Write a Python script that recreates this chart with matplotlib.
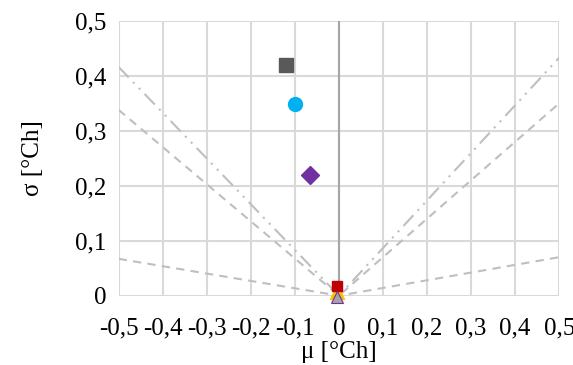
import matplotlib
matplotlib.use("Agg")
import matplotlib.pyplot as plt

plt.rcParams['font.family'] = ['Liberation Serif', 'DejaVu Serif']

# Data
x_ticks = [-0.5, -0.4, -0.3, -0.2, -0.1, 0.0, 0.1, 0.2, 0.3, 0.4, 0.5]
x_tick_labels = ["-0,5", "-0,4", "-0,3", "-0,2", "-0,1", "0", "0,1", "0,2", "0,3", "0,4", "0,5"]
y_ticks = [0.0, 0.1, 0.2, 0.3, 0.4, 0.5]
y_tick_labels = ["0", "0,1", "0,2", "0,3", "0,4", "0,5"]

# Limit lines (mu, sigma)
line_mu = [-0.5, 0.0, 0.5]
line_dashdot_sigma = [0.416, 0.0, 0.433]
line_dashed_sigma = [0.338, 0.0, 0.350]
line_low_sigma = [0.067, 0.0, 0.070]

# Points (mu, sigma)
pt_gray_sq = (-0.12, 0.42)
pt_blue = (-0.10, 0.348)
pt_purple = (-0.065, 0.22)
pt_gold = (-0.004, 0.006)
pt_red = (-0.005, 0.017)
pt_gray_tri = (-0.005, -0.002)

fig = plt.figure(figsize=(5.73, 3.65), dpi=100)
ax = fig.add_axes([0.207, 0.19, 0.769, 0.753])

ax.set_xlim(-0.5, 0.5)
ax.set_ylim(0, 0.5)
ax.set_xticks(x_ticks)
ax.set_xticklabels(x_tick_labels)
ax.set_yticks(y_ticks)
ax.set_yticklabels(y_tick_labels)
ax.tick_params(length=0, labelsize=18, pad=9)
ax.tick_params(axis='x', pad=16)
for s in ax.spines.values():
    s.set_visible(False)
ax.grid(True, color='#D9D9D9', linewidth=1.5)
ax.set_axisbelow(True)
ax.axvline(0, color='#A6A6A6', linewidth=1.5, zorder=1.5)

lc = '#BFBFBF'
ax.plot(line_mu, line_dashdot_sigma, color=lc, linewidth=1.5,
        dashes=(7, 3, 1, 3, 1, 3), zorder=2)
ax.plot(line_mu, line_dashed_sigma, color=lc, linewidth=1.5,
        dashes=(4, 3), zorder=2)
ax.plot(line_mu, line_low_sigma, color=lc, linewidth=1.5,
        dashes=(4, 3), zorder=2)

ax.plot(*pt_gray_sq, marker='s', color='#595959', markersize=10, linestyle='none', zorder=3)
ax.plot(*pt_blue, marker='o', color='#00B0F0', markersize=10, linestyle='none', zorder=3)
ax.plot(*pt_purple, marker='D', color='#7030A0', markersize=9, linestyle='none', zorder=3)
ax.plot(*pt_gold, marker='^', color='#FFC000', markersize=10, linestyle='none', zorder=3, clip_on=False)
ax.plot(*pt_red, marker='s', color='#C00000', markersize=7, linestyle='none', zorder=4, clip_on=False)
ax.plot(*pt_gray_tri, marker='^', markerfacecolor='#A5A5A5', markeredgecolor='#7030A0',
        markeredgewidth=0.8, markersize=9, linestyle='none', zorder=5, clip_on=False)

ax.set_xlabel("μ [°Ch]", fontsize=18, labelpad=1)
ax.set_ylabel("σ [°Ch]", fontsize=18, labelpad=22)

fig.savefig("out.png", dpi=100)
